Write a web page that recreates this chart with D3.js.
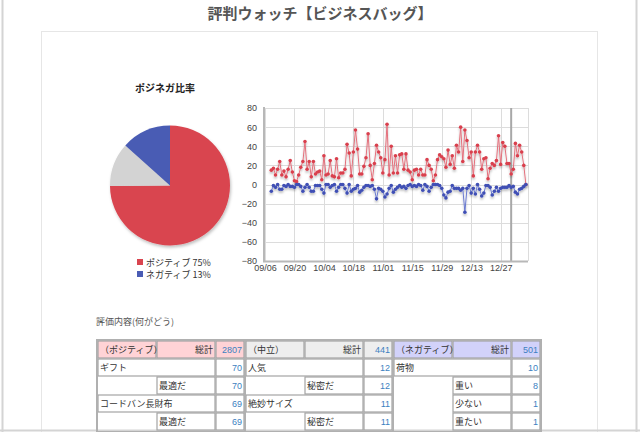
<!DOCTYPE html>
<html>
<head>
<meta charset="utf-8">
<script src="https://cdn.jsdelivr.net/npm/d3@7"></script>
<style>
body { margin: 0; background: #fff; }
text { font-family: "Noto Sans CJK JP", "Noto Sans", sans-serif; }
</style>
</head>
<body>
<div id="chart"></div>
<script>
// daily counts, positive and negative mentions, starting 09/09
var posValues = [15,17,10,16,24,10,14,8,16,25,13,4,3,10,18,24,45,16,24,8,24,11,13,14,5,30,10,11,25,9,
    8,27,7,12,12,16,42,33,9,34,57,37,11,11,19,28,53,20,5,22,41,34,28,12,26,63,10,40,12,30,
    12,31,32,16,32,15,13,5,15,16,10,16,10,10,26,20,16,4,10,26,31,29,27,18,36,21,30,17,41,34,
    60,24,57,46,28,34,9,34,41,34,16,27,28,6,17,22,20,25,51,21,44,40,22,22,11,16,43,30,41,34,
    20,0]
var negValues = [-7,-1,-3,0,-5,-5,-1,-2,0,-2,-2,-3,0,0,-2,-7,-3,0,-3,-7,-7,-1,-1,-1,-5,-9,0,0,-3,-1,
    0,-7,-3,0,0,-4,-9,0,-7,-5,-4,-1,-8,-6,-3,-1,-1,-2,-1,-5,-15,-4,-5,-7,-13,-10,-4,-1,-8,-5,
    -3,-1,-3,-2,-4,-1,0,-2,-1,-2,0,-1,-6,0,-2,-7,-3,0,0,0,-1,-4,-11,-14,-8,-7,-1,-4,-4,-4,
    -6,-4,-29,-4,-1,-9,-4,-10,0,-5,-12,-9,-1,-1,-3,-11,-7,-3,-7,-4,-3,-3,-3,-1,-3,-2,-8,-10,-5,-4,
    -2,0]
var firstDay = new Date(2013, 8, 9)
var xTickLabels = ['09/06','09/20','10/04','10/18','11/01','11/15','11/29','12/13','12/27']
var yTicks = [-80,-60,-40,-20,0,20,40,60,80]

var pieLabels = ['ポジティブ', '中立', 'ネガティブ']
var pieCounts = [2807, 441, 501]
var pieColors = ['#d9444f', '#d3d3d3', '#4a5cb4']

var groupNames = ['（ポジティブ）', '（中立）', '（ネガティブ）']
var groupTotals = [2807, 441, 501]
var groupFills = ['#ffd3d6', '#eeeeee', '#d2d2fa']
// [label, count, level]
var posItems = [['ギフト',70,0], ['最適だ',70,1], ['コードバン長財布',69,0], ['最適だ',69,1]]
var neuItems = [['人気',12,0], ['秘密だ',12,1], ['絶妙サイズ',11,0], ['秘密だ',11,1]]
var negItems = [['荷物',10,0], ['重い',8,1], ['少ない',1,1], ['重たい',1,1]]

function main(container) {
    var svg = d3.select(container).append('svg').attr('width', 640).attr('height', 432)

    var defs = svg.append('defs')
    defs.append('filter').attr('id', 'shadow').attr('x', '-20%').attr('y', '-20%')
        .attr('width', '140%').attr('height', '140%')
        .append('feDropShadow').attr('dx', 0).attr('dy', 2).attr('stdDeviation', 1)
        .attr('flood-color', '#000').attr('flood-opacity', 0.25)
    defs.append('filter').attr('id', 'pieshadow').attr('x', '-20%').attr('y', '-20%')
        .attr('width', '140%').attr('height', '140%')
        .append('feDropShadow').attr('dx', 1).attr('dy', 2).attr('stdDeviation', 1.5)
        .attr('flood-color', '#000').attr('flood-opacity', 0.25)

    /* page frame */
    svg.append('rect').attr('x', 41.5).attr('y', 31.5).attr('width', 556).attr('height', 420)
        .attr('fill', 'none').attr('stroke', '#e6e6e6')
    svg.append('line').attr('x1', 2.5).attr('x2', 2.5).attr('y1', 0).attr('y2', 432)
        .attr('stroke', '#d4d4d4').attr('stroke-width', 2)
    svg.append('line').attr('x1', 636.5).attr('x2', 636.5).attr('y1', 0).attr('y2', 432)
        .attr('stroke', '#d4d4d4').attr('stroke-width', 2)
    svg.append('line').attr('x1', 0).attr('x2', 640).attr('y1', 430.5).attr('y2', 430.5)
        .attr('stroke', '#d4d4d4').attr('stroke-width', 2)

    svg.append('text').attr('x', 320).attr('y', 19).attr('text-anchor', 'middle')
        .attr('font-size', 15).attr('font-weight', 'bold').attr('fill', '#555')
        .text('評判ウォッチ【ビジネスバッグ】')

    /* pie */
    svg.append('text').attr('x', 135).attr('y', 92).attr('font-size', 10)
        .attr('font-weight', 'bold').attr('fill', '#222').text('ポジネガ比率')

    var pie = d3.pie().sort(null).value(function(d) { return d })
    var arc = d3.arc().innerRadius(0).outerRadius(60)
    var pieG = svg.append('g').attr('transform', 'translate(170,185.5)')
        .attr('filter', 'url(#pieshadow)')
    pieG.selectAll('path').data(pie(pieCounts)).enter().append('path')
        .attr('d', arc)
        .attr('fill', function(d, i) { return pieColors[i] })

    var total = d3.sum(pieCounts)
    var legendIdx = [0, 2]
    var legend = svg.selectAll('.legend').data(legendIdx).enter().append('g')
        .attr('class', 'legend')
        .attr('transform', function(d, i) { return 'translate(137,' + (259 + i * 12) + ')' })
    legend.append('rect').attr('width', 6).attr('height', 6)
        .attr('fill', function(d) { return pieColors[d] })
    legend.append('text').attr('x', 9).attr('y', 6.5).attr('font-size', 9).attr('fill', '#333')
        .text(function(d) { return pieLabels[d] + ' ' + Math.round(pieCounts[d] / total * 100) + '%' })

    /* line chart */
    var parseTick = function(s) {
        var m = +s.slice(0, 2), day = +s.slice(3)
        return new Date(m < 6 ? 2014 : 2013, m - 1, day)
    }
    var tickDates = xTickLabels.map(parseTick)
    var dates = posValues.map(function(v, i) { return d3.timeDay.offset(firstDay, i) })
    var x = d3.scaleTime().domain([tickDates[0], new Date(2014, 0, 9)]).range([265, 528])
    var y = d3.scaleLinear().domain([-80, 80]).range([261, 108])

    var grid = svg.append('g')
    grid.selectAll('.hg').data(yTicks).enter().append('line')
        .attr('x1', 265).attr('x2', 528)
        .attr('y1', function(d) { return Math.round(y(d)) + 0.5 })
        .attr('y2', function(d) { return Math.round(y(d)) + 0.5 })
        .attr('stroke', '#dcdcdc')
    grid.selectAll('.vg').data(tickDates.concat([x.domain()[1]])).enter().append('line')
        .attr('y1', 108).attr('y2', 261)
        .attr('x1', function(d) { return Math.round(x(d)) + 0.5 })
        .attr('x2', function(d) { return Math.round(x(d)) + 0.5 })
        .attr('stroke', '#dcdcdc')

    // new year marker
    svg.append('line').attr('x1', x(new Date(2014, 0, 1))).attr('x2', x(new Date(2014, 0, 1)))
        .attr('y1', 108).attr('y2', 261).attr('stroke', '#a8a8a8').attr('stroke-width', 2)

    var yAxis = svg.append('g').attr('transform', 'translate(265,0)')
        .call(d3.axisLeft(y).tickValues(yTicks).tickSize(0).tickPadding(8))
    yAxis.select('.domain').remove()
    yAxis.selectAll('text').attr('font-size', 9).attr('fill', '#444')
        .style('font-family', '"Liberation Sans", Arial, sans-serif')

    var xAxis = svg.append('g').attr('transform', 'translate(0,261)')
        .call(d3.axisBottom(x).tickValues(tickDates).tickFormat(d3.timeFormat('%m/%d'))
            .tickSize(0).tickPadding(4))
    xAxis.select('.domain').remove()
    xAxis.selectAll('text').attr('font-size', 9).attr('fill', '#444')
        .style('font-family', '"Liberation Sans", Arial, sans-serif')

    svg.append('line').attr('x1', 264).attr('x2', 264).attr('y1', 107).attr('y2', 262)
        .attr('stroke', '#b8b8b8').attr('stroke-width', 2)
    svg.append('line').attr('x1', 263).attr('x2', 528).attr('y1', 261.5).attr('y2', 261.5)
        .attr('stroke', '#b8b8b8').attr('stroke-width', 2)

    var series = [
        {values: posValues, line: '#e4707c', dot: '#d9404e'},
        {values: negValues, line: '#6a7ad0', dot: '#4050b5'}
    ]
    var line = d3.line()
        .x(function(d, i) { return x(dates[i]) })
        .y(function(d) { return y(d) })

    var sG = svg.selectAll('.series').data(series).enter().append('g')
        .attr('class', 'series').attr('filter', 'url(#shadow)')
    sG.append('path')
        .attr('d', function(d) { return line(d.values) })
        .attr('fill', 'none').attr('stroke', function(d) { return d.line }).attr('stroke-width', 1)
    sG.each(function(s) {
        d3.select(this).selectAll('circle').data(s.values).enter().append('circle')
            .attr('cx', function(d, i) { return x(dates[i]) })
            .attr('cy', function(d) { return y(d) })
            .attr('r', 1.8)
            .attr('fill', s.dot)
    })

    /* table */
    svg.append('text').attr('x', 96).attr('y', 325).attr('font-size', 9).attr('fill', '#555')
        .text('評価内容(何がどう)')

    var tables = [
        {name: groupNames[0], total: groupTotals[0], fill: groupFills[0], items: posItems},
        {name: groupNames[1], total: groupTotals[1], fill: groupFills[1], items: neuItems},
        {name: groupNames[2], total: groupTotals[2], fill: groupFills[2], items: negItems}
    ]
    var tx = d3.scaleBand().domain(d3.range(tables.length)).range([97, 541])
    var colX = [0, 59, 118], colW = [59, 59, 29]
    var rowH = 18, top = 340

    var tG = svg.selectAll('.tbl').data(tables).enter().append('g')
        .attr('class', 'tbl')
        .attr('transform', function(d, i) { return 'translate(' + tx(i) + ',' + top + ')' })

    tG.each(function(t) {
        var g = d3.select(this)
        var cells = []
        cells.push({c: 0, span: 1, r: 0, text: t.name, fill: t.fill, align: 'start'})
        cells.push({c: 1, span: 1, r: 0, text: '総計', fill: t.fill, align: 'end'})
        cells.push({c: 2, span: 1, r: 0, text: t.total, fill: t.fill, align: 'end', num: true})
        t.items.forEach(function(it, k) {
            var r = k + 1
            if (it[2] === 0) cells.push({c: 0, span: 2, r: r, text: it[0], fill: '#fff', align: 'start'})
            else cells.push({c: 1, span: 1, r: r, text: it[0], fill: '#fff', align: 'start'})
            cells.push({c: 2, span: 1, r: r, text: it[1], fill: '#fff', align: 'end', num: true})
        })

        var cw = function(d) { return d.span === 2 ? colW[0] + colW[1] : colW[d.c] }
        g.selectAll('rect.cell').data(cells).enter().append('rect').attr('class', 'cell')
            .attr('x', function(d) { return colX[d.c] + 1 })
            .attr('y', function(d) { return d.r * rowH + 1 })
            .attr('width', function(d) { return cw(d) - 1 })
            .attr('height', rowH - 1)
            .attr('fill', function(d) { return d.fill })
            .attr('stroke', '#a4a4a4').attr('stroke-width', 1.2)
        g.selectAll('text.cell').data(cells).enter().append('text').attr('class', 'cell')
            .attr('x', function(d) { return d.align === 'end' ? colX[d.c] + cw(d) - 2 : colX[d.c] + 3 })
            .attr('y', function(d) { return d.r * rowH + 13 })
            .attr('text-anchor', function(d) { return d.align })
            .attr('font-size', 9)
            .attr('fill', function(d) { return d.num ? '#3d7fc1' : '#333' })
            .style('font-family', function(d) { return d.num ? '"Liberation Sans", Arial, sans-serif' : null })
            .text(function(d) { return d.text })
        g.append('rect').attr('x', 0).attr('y', 0).attr('width', 148).attr('height', rowH * 5 + 2)
            .attr('fill', 'none').attr('stroke', '#b0b0b0').attr('stroke-width', 2)
    })
}

main('#chart')
</script>
</body>
</html>
